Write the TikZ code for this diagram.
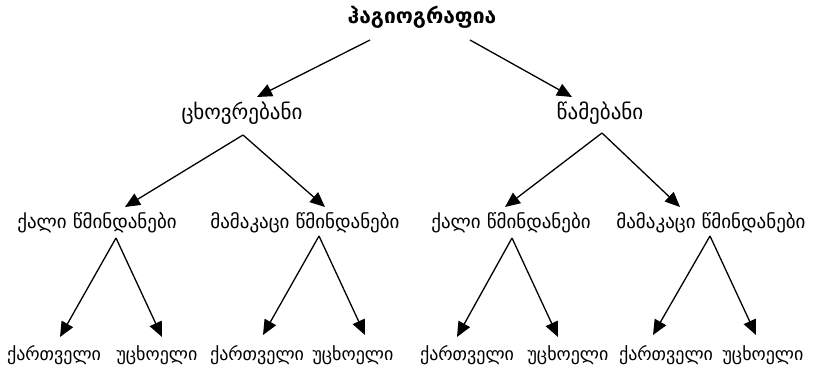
\documentclass[tikz,border=0pt]{standalone}
\usepackage{fontspec}
\setmainfont{DejaVu Sans}
\usetikzlibrary{arrows.meta}
\begin{document}
\begin{tikzpicture}[x=1pt,y=-1pt,
  lbl/.style={inner sep=0pt,anchor=base,font=\fontsize{19}{22}\selectfont},
  leaf/.style={lbl,font=\fontsize{18}{21}\selectfont},
  upper/.style={lbl,font=\fontsize{21}{24}\selectfont},
  ttl/.style={lbl,font=\fontsize{21}{24}\selectfont\bfseries},
  arr/.style={line width=1.3pt,-{Triangle[length=15pt,width=13pt]}}]
\useasboundingbox (0,0) rectangle (813,366);
% title
\node[ttl] (t) at (422,24) {ჰაგიოგრაფია};
% second level
\node[upper] (a) at (242,120) {ცხოვრებანი};
\node[upper] (b) at (600,120) {წამებანი};
% third level
\node[lbl] (a1) at (97,228) {ქალი წმინდანები};
\node[lbl] (a2) at (305,228) {მამაკაცი წმინდანები};
\node[lbl] (b1) at (511,228) {ქალი წმინდანები};
\node[lbl] (b2) at (711,228) {მამაკაცი წმინდანები};
% fourth level
\node[leaf] (a11) at (54,360) {ქართველი};
\node[leaf] (a12) at (157,360) {უცხოელი};
\node[leaf] (a21) at (257,360) {ქართველი};
\node[leaf] (a22) at (353,360) {უცხოელი};
\node[leaf] (b11) at (467,360) {ქართველი};
\node[leaf] (b12) at (568,360) {უცხოელი};
\node[leaf] (b21) at (666,360) {ქართველი};
\node[leaf] (b22) at (763,360) {უცხოელი};
% connectors
\draw[arr] ([shift={(-52,16)}]t.base) -- ([shift={(15,-23)}]a.base);
\draw[arr] ([shift={(48,16)}]t.base) -- ([shift={(-28,-23)}]b.base);
\draw[arr] ([shift={(1,15)}]a.base) -- ([shift={(28,-21)}]a1.base);
\draw[arr] ([shift={(1,15)}]a.base) -- ([shift={(20,-21)}]a2.base);
\draw[arr] ([shift={(2,13)}]b.base) -- ([shift={(-6,-21)}]b1.base);
\draw[arr] ([shift={(2,13)}]b.base) -- ([shift={(-31,-21)}]b2.base);
\draw[arr] ([shift={(19,10)}]a1.base) -- ([shift={(6,-23)}]a11.base);
\draw[arr] ([shift={(19,10)}]a1.base) -- ([shift={(5,-23)}]a12.base);
\draw[arr] ([shift={(14,8)}]a2.base) -- ([shift={(6,-25)}]a21.base);
\draw[arr] ([shift={(14,8)}]a2.base) -- ([shift={(12,-25)}]a22.base);
\draw[arr] ([shift={(1,10)}]b1.base) -- ([shift={(-10,-23)}]b11.base);
\draw[arr] ([shift={(1,10)}]b1.base) -- ([shift={(-10,-23)}]b12.base);
\draw[arr] ([shift={(-1,8)}]b2.base) -- ([shift={(-13,-25)}]b21.base);
\draw[arr] ([shift={(-1,8)}]b2.base) -- ([shift={(-7,-25)}]b22.base);
\end{tikzpicture}
\end{document}
